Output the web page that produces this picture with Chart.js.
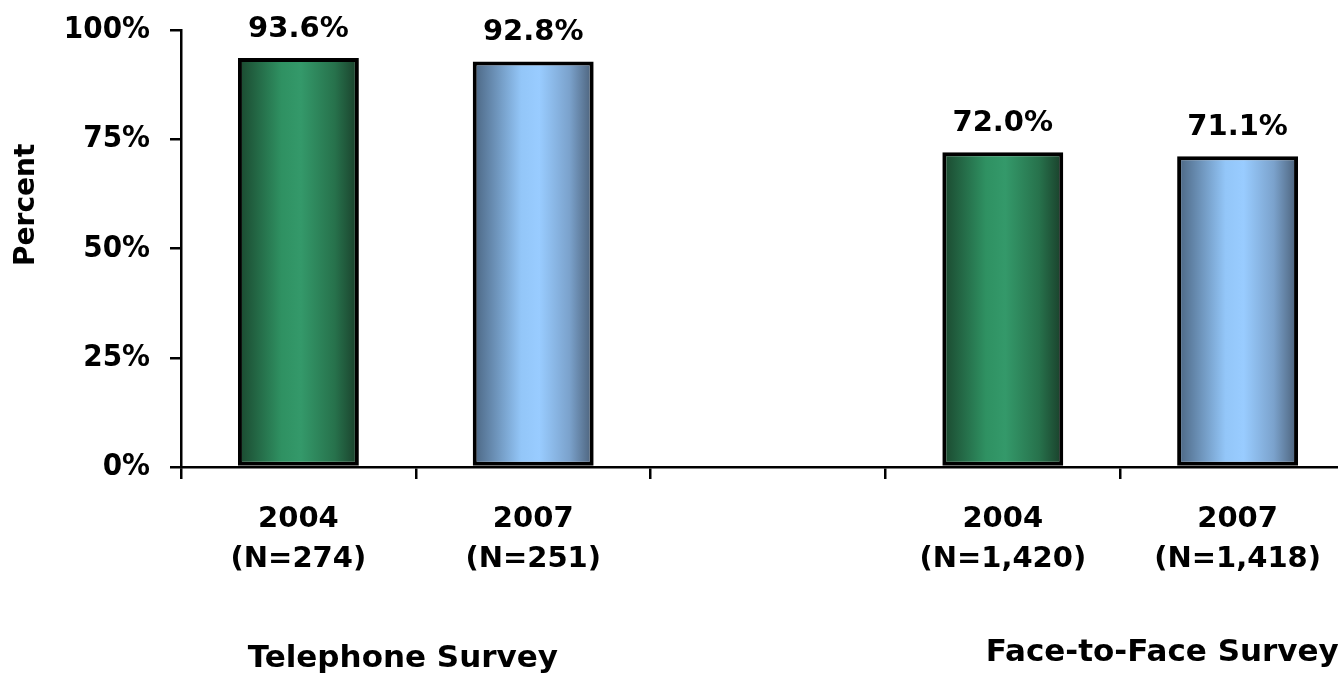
<!DOCTYPE html>
<html><head><meta charset="utf-8">
<style>html,body{margin:0;padding:0;background:#fff;overflow:hidden;width:1338px;height:675px}canvas{display:block}</style>
<script src="https://cdn.jsdelivr.net/npm/chart.js@4"></script>
</head><body><canvas id="c" width="1356" height="675" style="width:1356px;height:675px"></canvas>
<script>
// ---- data ----
const years = ['2004', '2007', '', '2004', '2007'];
const sampleSizes = ['(N=274)', '(N=251)', '', '(N=1,420)', '(N=1,418)'];
const percents = [93.6, 92.8, null, 72.0, 71.1];
const groupNames = ['Telephone Survey', 'Face-to-Face Survey'];
const groupMembers = [[0, 1], [3, 4]];
const yTicks = [0, 25, 50, 75, 100];
const yTitle = 'Percent';

// ---- styling ----
const FONT = "'DejaVu Sans'";
const NARROW = "'DejaVu Sans Condensed'";
const barPct = 0.515;
const gradStops = {
  '2004': [[0, '#1a472e'], [0.36, '#2f9162'], [0.52, '#34996a'], [0.8, '#27724c'], [1, '#193d29']],
  '2007': [[0, '#4a6480'], [0.4, '#93c6f8'], [0.55, '#99ccff'], [0.8, '#7ba2cc'], [1, '#495e76']]
};

const labels = years.map((y, i) => y ? [y, sampleSizes[i]] : '');

const valueLabels = {
  id: 'valueLabels',
  afterDatasetsDraw(chart) {
    const ctx = chart.ctx;
    const meta = chart.getDatasetMeta(0);
    ctx.save();
    ctx.font = 'bold 29px ' + FONT;
    ctx.fillStyle = '#000';
    ctx.textAlign = 'center';
    ctx.textBaseline = 'alphabetic';
    meta.data.forEach((el, i) => {
      const v = percents[i];
      if (v == null) return;
      ctx.fillText(v.toFixed(1) + '%', el.x, el.y - 21);
    });
    ctx.restore();
  }
};

const extraText = {
  id: 'extraText',
  afterDraw(chart) {
    const ctx = chart.ctx;
    const xs = chart.scales.x, ys = chart.scales.y;
    ctx.save();
    ctx.fillStyle = '#000';
    ctx.textAlign = 'center';
    ctx.textBaseline = 'alphabetic';
    ctx.font = 'bold 31px ' + FONT;
    const shifts = [-13, 42];
    const bases = [667, 661];
    groupNames.forEach((g, k) => {
      const m = groupMembers[k];
      const cx = (xs.getPixelForValue(m[0]) + xs.getPixelForValue(m[1])) / 2 + shifts[k];
      ctx.fillText(g, cx, bases[k]);
    });
    // y axis title
    ctx.translate(27, ys.getPixelForValue(60));
    ctx.rotate(-Math.PI / 2);
    ctx.textBaseline = 'middle';
    ctx.font = 'bold 28px ' + FONT;
    ctx.fillText(yTitle, 0, 0);
    ctx.restore();
  }
};

new Chart(document.getElementById('c'), {
  type: 'bar',
  data: {
    labels: labels,
    datasets: [{
      data: percents,
      categoryPercentage: 1,
      barPercentage: barPct,
      borderColor: '#000',
      borderWidth: 4,
      borderSkipped: false,
      backgroundColor: (c) => {
        const chart = c.chart, xs = chart.scales.x;
        const yr = years[c.dataIndex] || '2004';
        if (!xs || !chart.chartArea || c.type !== 'data') return gradStops[yr][2][1];
        const cx = xs.getPixelForValue(c.dataIndex);
        const half = (xs.width / years.length) * barPct / 2;
        const g = chart.ctx.createLinearGradient(cx - half, 0, cx + half, 0);
        gradStops[yr].forEach(s => g.addColorStop(s[0], s[1]));
        return g;
      }
    }]
  },
  options: {
    responsive: false,
    animation: false,
    layout: { padding: { top: 30, left: 0, right: 1, bottom: 0 } },
    plugins: { legend: { display: false }, tooltip: { enabled: false } },
    scales: {
      x: {
        offset: true,
        afterFit: s => { s.height = 208; s.paddingLeft = 0; s.paddingRight = 0; },
        grid: { offset: true, drawOnChartArea: false, drawTicks: true, tickLength: 12, color: '#000', lineWidth: 2.5 },
        border: { display: true, color: '#000', width: 2.5 },
        ticks: {
          autoSkip: false, maxRotation: 0, padding: 20, color: '#000',
          font: { family: FONT, weight: 'bold', size: 29, lineHeight: '40px' }
        }
      },
      y: {
        min: 0, max: 100,
        afterFit: s => { s.width = 181; s.paddingTop = 0; s.paddingBottom = 0; },
        afterBuildTicks: s => { s.ticks = yTicks.map(v => ({ value: v })); },
        grid: { drawOnChartArea: false, drawTicks: true, tickLength: 11, color: '#000', lineWidth: 2.5 },
        border: { display: true, color: '#000', width: 2.5 },
        ticks: {
          padding: 20, color: '#000',
          font: { family: NARROW, weight: 'bold', size: 31 },
          callback: v => v + '%'
        }
      }
    }
  },
  plugins: [valueLabels, extraText]
});
</script>
</body></html>
